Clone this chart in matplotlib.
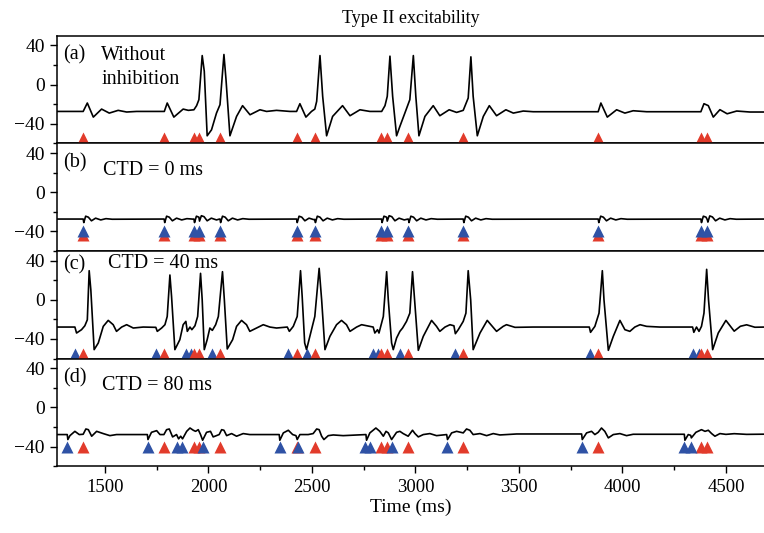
import matplotlib
matplotlib.use("Agg")
import matplotlib.pyplot as plt
from matplotlib.ticker import MultipleLocator

plt.rcParams['font.family'] = ['Liberation Serif', 'DejaVu Serif']

# ---------------- data ----------------
exc_times = [1395, 1786, 1930, 1954, 2056, 2426, 2514, 2836, 2861, 2966,
             3231, 3883, 4379, 4410]
inh_b = [1395, 1786, 1930, 1954, 2056, 2426, 2514, 2836, 2861, 2966,
         3231, 3883, 4379, 4410]
inh_c = [1355, 1746, 1890, 1914, 2016, 2386, 2474, 2796, 2821, 2926,
         3191, 3843, 4339, 4370]
inh_d = [1315, 1706, 1850, 1874, 1976, 2346, 2434, 2756, 2781, 2886,
         3151, 3803, 4299, 4330]

t_a = [1234, 1395, 1415, 1444, 1484, 1521, 1564, 1605, 1653, 1787, 1801, 1833,
       1878, 1903, 1930, 1943, 1954, 1970, 1980, 1994, 2015, 2039, 2056, 2075,
       2085, 2104, 2136, 2165, 2201, 2249, 2281, 2329, 2394, 2426, 2442, 2471,
       2498, 2514, 2523, 2539, 2552, 2571, 2600, 2648, 2684, 2732, 2780, 2837,
       2853, 2864, 2877, 2890, 2909, 2925, 2949, 2973, 2990, 3002, 3017, 3046,
       3086, 3118, 3163, 3199, 3231, 3255, 3268, 3279, 3299, 3328, 3357, 3392,
       3437, 3473, 3521, 3569, 3883, 3896, 3927, 3972, 4012, 4052, 4117, 4379,
       4394, 4415, 4439, 4471, 4506, 4552, 4616, 4690]
v_a = [-27.4, -27.4, -18.8, -33.2, -25.0, -29.1, -26.3, -28.0, -27.4, -27.4,
       -18.8, -33.2, -25.0, -26.3, -25.7, -21.5, -15.4, 29.7, 13.7, -52.3,
       -46.2, -29.1, -20.5, 30.8, 5.1, -52.3, -32.5, -21.5, -30.8, -25.7,
       -27.4, -26.3, -27.4, -27.4, -19.5, -33.2, -27.4, -25.0, -17.1, 29.7,
       -12.0, -52.3, -32.5, -21.5, -31.8, -25.7, -27.4, -27.4, -21.5, -12.0,
       29.1, -12.0, -52.3, -42.7, -29.1, -15.4, 29.7, -12.0, -52.3, -32.5,
       -21.5, -31.8, -25.7, -28.4, -26.3, -13.7, 28.4, -12.0, -52.3, -32.5,
       -21.5, -31.8, -25.7, -29.1, -27.0, -27.7, -27.7, -18.8, -33.2, -25.7,
       -29.1, -26.7, -27.7, -27.7, -19.5, -21.5, -33.2, -25.6, -29.8, -27.0,
       -28.0, -28.0]

t_b = [1234, 1395, 1398, 1407, 1420, 1435, 1455, 1480, 1505, 1535,
       1786, 1789, 1798, 1811, 1826, 1846, 1871, 1896, 1926,
       1930, 1933, 1942, 1954, 1957, 1966, 1979, 1994, 2014, 2039, 2052,
       2056, 2059, 2068, 2081, 2096, 2116, 2141, 2166, 2196,
       2426, 2429, 2438, 2451, 2466, 2486, 2509,
       2514, 2517, 2526, 2539, 2554, 2574, 2599, 2624, 2654,
       2836, 2839, 2848, 2861, 2864, 2873, 2886, 2901, 2921, 2946, 2962,
       2966, 2969, 2978, 2991, 3006, 3026, 3051, 3076, 3106,
       3231, 3234, 3243, 3256, 3271, 3291, 3316, 3341, 3371,
       3883, 3886, 3895, 3908, 3923, 3943, 3968, 3993, 4023,
       4379, 4382, 4391, 4404, 4410, 4413, 4422, 4435, 4450, 4470, 4495,
       4520, 4550, 4690]
v_b = [-27.4, -27.4, -31.0, -24.5, -25.5, -29.2, -26.5, -28.3, -27.0, -27.6,
       -27.4, -31.0, -24.5, -25.5, -29.2, -26.5, -28.3, -27.0, -27.5,
       -27.4, -31.0, -24.5, -25.5, -29.5, -24.0, -25.0, -29.2, -26.5, -28.3, -27.5,
       -27.4, -31.0, -24.5, -25.5, -29.2, -26.5, -28.3, -27.0, -27.6,
       -27.4, -31.0, -24.5, -25.5, -29.2, -26.5, -28.0,
       -27.8, -31.0, -24.5, -25.5, -29.2, -26.5, -28.3, -27.0, -27.6,
       -27.4, -31.0, -24.5, -25.5, -29.5, -24.0, -25.0, -29.2, -26.5, -28.3, -27.5,
       -27.5, -31.0, -24.5, -25.5, -29.2, -26.5, -28.3, -27.0, -27.6,
       -27.4, -31.0, -24.5, -25.5, -29.2, -26.5, -28.3, -27.0, -27.6,
       -27.4, -31.0, -24.5, -25.5, -29.2, -26.5, -28.3, -27.0, -27.6,
       -27.4, -31.0, -24.5, -25.5, -28.0, -30.5, -24.2, -25.3, -29.2, -26.5, -28.3,
       -27.0, -27.6, -27.4]

t_c = [1234, 1355, 1363, 1387, 1403, 1415, 1424, 1432, 1448, 1468, 1492, 1516,
       1540, 1556, 1581, 1605, 1637, 1685, 1746, 1753, 1774, 1790, 1801, 1814,
       1822, 1838, 1862, 1878, 1891, 1898, 1911, 1920, 1935, 1948, 1962, 1970,
       1980, 1994, 2007, 2019, 2035, 2048, 2068, 2077, 2091, 2117, 2136, 2160,
       2184, 2200, 2233, 2265, 2297, 2329, 2381, 2391, 2410, 2429, 2445, 2453,
       2465, 2474, 2498, 2514, 2535, 2547, 2563, 2587, 2619, 2643, 2667, 2684,
       2716, 2740, 2780, 2796, 2804, 2817, 2824, 2837, 2845, 2861, 2869, 2885,
       2893, 2909, 2925, 2938, 2957, 2973, 2986, 2996, 3014, 3038, 3078, 3102,
       3118, 3143, 3167, 3186, 3193, 3207, 3231, 3244, 3255, 3267, 3279, 3312,
       3347, 3392, 3424, 3440, 3481, 3569, 3840, 3846, 3867, 3887, 3903, 3911,
       3932, 3956, 3988, 4012, 4036, 4060, 4085, 4117, 4181, 4339, 4345, 4358,
       4370, 4382, 4394, 4407, 4416, 4436, 4463, 4500, 4540, 4570, 4600, 4640,
       4690]
v_c = [-27.8, -27.8, -33.9, -30.5, -26.5, -20.4, 29.8, 10.2, -50.9, -44.1,
       -27.1, -21.0, -25.4, -32.2, -27.8, -25.4, -28.8, -27.8, -28.1, -32.2,
       -28.8, -25.4, -17.0, 25.4, 3.4, -50.9, -40.7, -25.4, -22.0, -32.2,
       -27.8, -30.5, -26.5, -17.0, 27.1, 0.0, -50.9, -40.7, -28.8, -31.2,
       -25.4, -17.0, 28.8, 0.0, -50.2, -40.7, -27.1, -21.0, -25.4, -32.2,
       -28.8, -25.4, -27.8, -28.8, -27.8, -32.2, -27.1, -17.0, 29.8, 3.4,
       -44.1, -50.9, -30.5, -17.0, 32.2, 0.0, -50.9, -37.3, -25.4, -21.0,
       -25.4, -32.2, -27.8, -25.4, -27.1, -27.8, -33.9, -30.5, -33.9, -23.7,
       -17.0, 28.8, 0.0, -44.1, -50.9, -39.0, -32.2, -28.8, -22.0, -13.6,
       28.8, 0.0, -51.6, -37.3, -21.0, -27.1, -32.2, -27.8, -25.4, -26.5,
       -34.6, -30.5, -22.0, -13.6, 29.8, 0.0, -50.9, -33.9, -21.0, -32.2,
       -27.1, -25.4, -28.1, -27.8, -27.8, -33.2, -27.1, -13.6, 29.8, 0.0,
       -51.6, -37.3, -21.0, -30.5, -32.2, -27.8, -25.4, -27.1, -27.8, -27.8,
       -33.2, -27.8, -32.2, -27.1, -13.6, 31.2, 0.0, -50.9, -33.9, -21.0,
       -32.0, -27.0, -25.5, -28.0, -27.8]

t_d = [1234, 1318, 1321, 1331, 1355, 1376, 1395, 1408, 1420, 1436, 1460, 1492,
       1524, 1556, 1705, 1708, 1725, 1750, 1766, 1785, 1798, 1811, 1827, 1846,
       1856, 1866, 1875, 1895, 1911, 1927, 1938, 1951, 1962, 1972, 1991, 2010,
       2023, 2052, 2064, 2075, 2088, 2112, 2136, 2168, 2200, 2342, 2345, 2362,
       2386, 2407, 2423, 2429, 2442, 2482, 2506, 2523, 2535, 2547, 2558, 2579,
       2603, 2651, 2761, 2764, 2780, 2809, 2828, 2845, 2858, 2869, 2885, 2909,
       2925, 2941, 2965, 2986, 2998, 3014, 3038, 3070, 3102, 3151, 3155, 3175,
       3199, 3231, 3247, 3263, 3279, 3312, 3344, 3376, 3408, 3489, 3803, 3806,
       3827, 3851, 3867, 3883, 3899, 3915, 3932, 3956, 3988, 4020, 4052, 4299,
       4302, 4318, 4330, 4333, 4355, 4382, 4399, 4415, 4431, 4447, 4471, 4500,
       4540, 4600, 4690]
v_d = [-27.7, -27.7, -32.8, -28.8, -24.4, -27.7, -27.4, -22.0, -22.7, -29.4,
       -24.4, -26.7, -28.8, -27.7, -27.7, -32.8, -25.4, -23.7, -27.7, -27.7,
       -22.7, -22.0, -30.1, -27.7, -32.1, -29.4, -32.1, -24.4, -21.0, -23.3,
       -24.4, -22.7, -27.7, -33.5, -25.4, -24.4, -30.1, -27.7, -22.7, -23.3,
       -28.8, -26.7, -29.4, -26.7, -27.7, -27.7, -33.5, -26.0, -23.3, -27.7,
       -28.8, -32.8, -27.7, -27.7, -26.7, -22.0, -22.7, -29.4, -32.8, -28.8,
       -28.1, -28.8, -27.7, -33.5, -26.0, -21.0, -24.4, -29.4, -24.4, -26.0,
       -32.8, -25.4, -24.4, -26.7, -29.4, -23.3, -26.7, -30.1, -27.7, -26.7,
       -28.8, -27.7, -32.8, -26.0, -24.4, -26.0, -22.0, -23.3, -27.7, -26.7,
       -28.8, -26.7, -28.1, -27.1, -27.1, -32.8, -26.0, -24.4, -27.7, -25.4,
       -21.0, -24.4, -31.1, -27.7, -26.7, -28.8, -27.4, -27.4, -33.5, -27.7,
       -28.5, -31.1, -25.4, -22.7, -24.4, -23.3, -26.7, -29.4, -26.7, -27.5,
       -26.8, -27.5, -27.3]

panel_labels = ["(a)", "(b)", "(c)", "(d)"]
panel_texts = ["Without\ninhibition", "CTD = 0 ms", "CTD = 40 ms", "CTD = 80 ms"]
yticks = [-40, 0, 40]
xticks = [1500, 2000, 2500, 3000, 3500, 4000, 4500]

# ---------------- figure ----------------
RED = "#E23B2B"
BLUE = "#2F52A5"
fig = plt.figure(figsize=(7.64, 5.33), dpi=100)
left, width, h = 0.075, 0.925, 0.2019
bottoms = [0.7311, 0.5292, 0.3273, 0.1254]
axes = []
for i, b in enumerate(bottoms):
    ax = fig.add_axes([left, b, width, h], sharex=axes[0] if axes else None)
    axes.append(ax)

traces = [(t_a, v_a), (t_b, v_b), (t_c, v_c), (t_d, v_d)]
for i, ax in enumerate(axes):
    t, v = traces[i]
    ax.plot(t, v, color="black", lw=1.2, zorder=2,
            solid_joinstyle="round", solid_capstyle="round")
    ax.set_ylim(-60, 50)
    ax.set_xlim(1270, 4684)
    ax.set_yticks(yticks)
    ax.yaxis.set_minor_locator(MultipleLocator(20))
    ax.xaxis.set_major_locator(MultipleLocator(500))
    ax.xaxis.set_minor_locator(MultipleLocator(250))
    ax.tick_params(axis="both", which="major", direction="out", length=5,
                   width=1, labelsize=14, pad=4)
    ax.tick_params(axis="both", which="minor", direction="out", length=3,
                   width=1)
    ax.tick_params(axis="x", top=False, labelsize=13.5)
    ax.tick_params(axis="y", right=False)
    ax.spines["right"].set_visible(False)
    for s in ["left", "top", "bottom"]:
        ax.spines[s].set_linewidth(1.1)
    if i < 3:
        ax.tick_params(axis="x", labelbottom=False)
    ax.text(0.008, 0.82 if i != 2 else 0.87, panel_labels[i], transform=ax.transAxes,
            fontsize=14.5, va="center", ha="left")

ms = 9
# (a)
axes[0].plot(exc_times, [-55] * len(exc_times), "^", color=RED, ms=ms,
             mec="none", clip_on=False, zorder=3)
axes[0].text(0.062, 0.82, "Without", transform=axes[0].transAxes, fontsize=14.5,
             va="center", ha="left")
axes[0].text(0.062, 0.59, "inhibition", transform=axes[0].transAxes, fontsize=14.5,
             va="center", ha="left")
# (b)
axes[1].plot(exc_times, [-44] * len(exc_times), "^", color=RED, ms=ms,
             mec="none", clip_on=False, zorder=3)
axes[1].plot(inh_b, [-40] * len(inh_b), "^", color=BLUE, ms=ms,
             mec="none", clip_on=False, zorder=4)
axes[1].text(0.065, 0.75, panel_texts[1], transform=axes[1].transAxes,
             fontsize=14.5, va="center", ha="left")
# (c)
axes[2].plot(inh_c, [-55] * len(inh_c), "^", color=BLUE, ms=ms,
             mec="none", clip_on=False, zorder=3)
axes[2].plot(exc_times, [-55] * len(exc_times), "^", color=RED, ms=ms,
             mec="none", clip_on=False, zorder=4)
axes[2].text(0.072, 0.88, panel_texts[2], transform=axes[2].transAxes,
             fontsize=14.5, va="center", ha="left")
# (d)
axes[3].plot(exc_times, [-40] * len(exc_times), "^", color=RED, ms=ms,
             mec="none", clip_on=False, zorder=3)
axes[3].plot(inh_d, [-40] * len(inh_d), "^", color=BLUE, ms=ms,
             mec="none", clip_on=False, zorder=4)
axes[3].text(0.063, 0.75, panel_texts[3], transform=axes[3].transAxes,
             fontsize=14.5, va="center", ha="left")

axes[3].set_xticks(xticks)
axes[3].set_xlabel("Time (ms)", fontsize=14, labelpad=2)
axes[0].set_title("Type II excitability", fontsize=13, pad=9)

fig.savefig("out.png", dpi=100)
